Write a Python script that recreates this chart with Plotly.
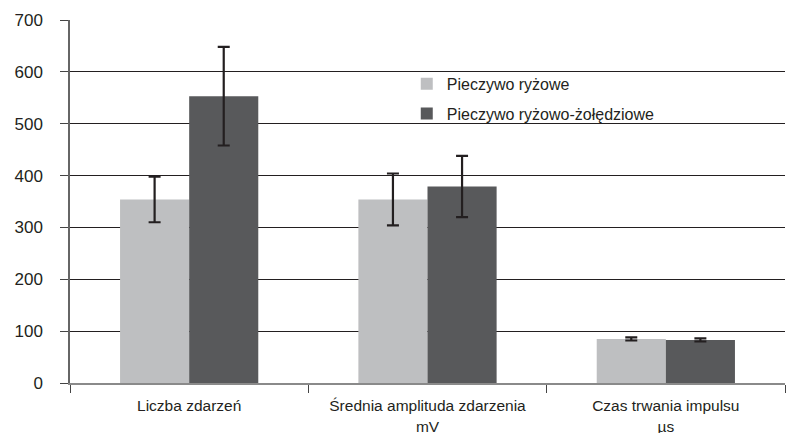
import plotly.graph_objects as go

categories = ["Liczba zdarzeń", "Średnia amplituda zdarzenia<br>mV", "Czas trwania impulsu<br>µs"]
series_names = ["Pieczywo ryżowe", "Pieczywo ryżowo-żołędziowe"]
rice_values = [354, 354, 85]
rice_errors = [44, 50, 3]
acorn_values = [553, 379, 83]
acorn_errors = [95, 59, 3]
y_ticks = [0, 100, 200, 300, 400, 500, 600, 700]

colors = ["#bebfc1", "#58595b"]
err_color = "#231f20"

fig = go.Figure()
for name, vals, errs, col, grp in [
    (series_names[0], rice_values, rice_errors, colors[0], "a"),
    (series_names[1], acorn_values, acorn_errors, colors[1], "b"),
]:
    fig.add_trace(go.Bar(
        x=categories, y=vals, name=name, legendgroup=grp,
        marker=dict(color=col, line=dict(width=0)),
        error_y=dict(type="data", array=errs, visible=True,
                     color=err_color, thickness=2.2, width=6),
    ))

fig.update_layout(
    width=790, height=433,
    margin=dict(l=70, r=5, t=20, b=50, autoexpand=False),
    paper_bgcolor="white", plot_bgcolor="white",
    barmode="group", bargap=0.42, bargroupgap=0,
    font=dict(family="Liberation Sans, Arial, sans-serif", size=15.5, color="#231f20"),
    legend=dict(x=0.471, y=0.871, xanchor="left", yanchor="top",
                bgcolor="rgba(0,0,0,0)", font=dict(size=16),
                tracegroupgap=6, itemwidth=30),
    showlegend=True,
)
fig.update_yaxes(
    range=[0, 700], tickvals=y_ticks, ticktext=[str(v) for v in y_ticks],
    tickfont=dict(size=17),
    showgrid=True, gridcolor="#231f20", gridwidth=1,
    showline=True, linecolor="#666666", linewidth=1.5,
    ticks="outside", ticklen=8, tickcolor="#444444", ticklabelstandoff=14,
    zeroline=False, automargin=False,
)
fig.update_xaxes(
    showline=True, linecolor="#8a8a8a", linewidth=1.5,
    ticks="outside", tickson="boundaries", ticklen=8, tickcolor="#444444",
    showgrid=False, automargin=False, ticklabelstandoff=8,
)
fig.write_html("out.html", config={"displayModeBar": False},
               post_script="document.body.style.margin='0px';")
